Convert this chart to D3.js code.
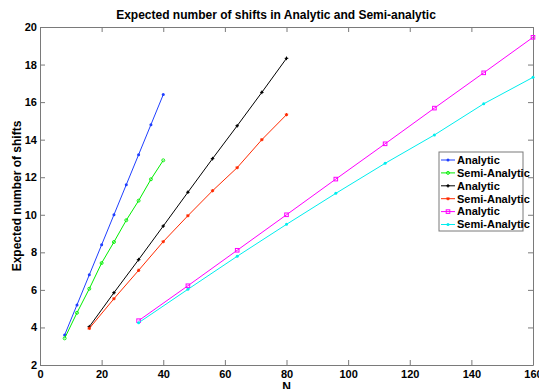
<!DOCTYPE html>
<html>
<head>
<meta charset="utf-8">
<script src="https://cdn.jsdelivr.net/npm/d3@7"></script>
<style>
  html, body { margin: 0; padding: 0; background: #fff; }
  svg { display: block; font-family: "Liberation Sans", Arial, Helvetica, sans-serif; }
</style>
</head>
<body>
<svg id="chart" width="539" height="389"></svg>
<script>
// Problem sizes N for each of the three experiments
const nSmall = [8, 12, 16, 20, 24, 28, 32, 36, 40];
const nMedium = [16, 24, 32, 40, 48, 56, 64, 72, 80];
const nLarge = [32, 48, 64, 80, 96, 112, 128, 144, 160];

// Expected number of shifts
const analyticSmall = [3.6, 5.2, 6.8, 8.4, 10.0, 11.6, 13.2, 14.8, 16.4];
const semiSmall = [3.42, 4.78, 6.06, 7.43, 8.55, 9.71, 10.75, 11.89, 12.9];
const analyticMedium = [4.04, 5.85, 7.61, 9.4, 11.2, 12.99, 14.74, 16.52, 18.33];
const semiMedium = [3.95, 5.53, 7.04, 8.57, 9.95, 11.28, 12.51, 14.0, 15.33];
const analyticLarge = [4.36, 6.22, 8.11, 10.0, 11.9, 13.78, 15.68, 17.56, 19.45];
const semiLarge = [4.25, 6.03, 7.79, 9.49, 11.14, 12.74, 14.25, 15.91, 17.32];

const xTicks = [0, 20, 40, 60, 80, 100, 120, 140, 160];
const yTicks = [2, 4, 6, 8, 10, 12, 14, 16, 18, 20];

const seriesNames = ["Analytic", "Semi-Analytic", "Analytic", "Semi-Analytic", "Analytic", "Semi-Analytic"];
const seriesColors = ["#1f3fff", "#00ee00", "#000000", "#ff2a00", "#ff00ff", "#00eeee"];
const seriesMarkers = ["dot", "circle", "plus", "star", "square", "dot"];

const series = [
  { x: nSmall, y: analyticSmall },
  { x: nSmall, y: semiSmall },
  { x: nMedium, y: analyticMedium },
  { x: nMedium, y: semiMedium },
  { x: nLarge, y: analyticLarge },
  { x: nLarge, y: semiLarge }
].map((s, i) => ({
  name: seriesNames[i],
  color: seriesColors[i],
  marker: seriesMarkers[i],
  points: s.x.map((n, j) => ({ n, v: s.y[j] }))
}));

const margin = { left: 40, right: 6, top: 27, bottom: 24 };
const W = 539, H = 389;
const x = d3.scaleLinear().domain([0, 160]).range([margin.left, W - margin.right]);
const y = d3.scaleLinear().domain([2, 20]).range([H - margin.bottom, margin.top]);

const svg = d3.select("#chart");
const axisColor = "#7a7a7a";

// Plot frame and ticks on all four sides (ticks point inward)
const tickLen = 5;
const axes = [
  { g: d3.axisBottom(x).tickValues(xTicks).tickSize(-tickLen), t: `translate(0,${y(2)})` },
  { g: d3.axisTop(x).tickValues(xTicks).tickSize(-tickLen).tickFormat(""), t: `translate(0,${y(20)})` },
  { g: d3.axisLeft(y).tickValues(yTicks).tickSize(-tickLen), t: `translate(${x(0)},0)` },
  { g: d3.axisRight(y).tickValues(yTicks).tickSize(-tickLen).tickFormat(""), t: `translate(${x(160)},0)` }
];
axes.forEach((a, i) => {
  const g = svg.append("g").attr("transform", a.t).call(a.g.tickSizeOuter(0));
  g.select(".domain").attr("stroke", axisColor).attr("stroke-width", 1);
  g.selectAll(".tick line").attr("stroke", axisColor);
  g.selectAll(".tick text")
    .attr("fill", "#000")
    .style("font-size", "11px")
    .style("font-weight", "bold")
    .style("font-family", "'Liberation Sans', Arial, sans-serif");
  if (i === 0) g.selectAll(".tick text").attr("y", 5).attr("dy", "0.71em");
  if (i === 2) g.selectAll(".tick text").attr("x", -3);
});

// Title and axis labels
svg.append("text")
  .attr("x", 276).attr("y", 19)
  .attr("text-anchor", "middle")
  .style("font-size", "12px").style("font-weight", "bold")
  .text("Expected number of shifts in Analytic and Semi-analytic");

svg.append("text")
  .attr("x", (x(0) + x(160)) / 2).attr("y", 391)
  .attr("text-anchor", "middle")
  .style("font-size", "12px").style("font-weight", "bold")
  .text("N");

svg.append("text")
  .attr("transform", `translate(21,${(y(2) + y(20)) / 2}) rotate(-90)`)
  .attr("text-anchor", "middle")
  .style("font-size", "12px").style("font-weight", "bold")
  .text("Expected number of shifts");

// Marker drawing
function drawMarker(g, type, color, cx, cy, s) {
  if (type === "dot") {
    g.append("circle").attr("cx", cx).attr("cy", cy).attr("r", s * 0.5).attr("fill", color);
  } else if (type === "circle") {
    g.append("circle").attr("cx", cx).attr("cy", cy).attr("r", s * 0.5)
      .attr("fill", "none").attr("stroke", color).attr("stroke-width", 0.9);
  } else if (type === "plus") {
    g.append("path").attr("d", `M${cx - s * 0.6},${cy}H${cx + s * 0.6}M${cx},${cy - s * 0.6}V${cy + s * 0.6}`)
      .attr("stroke", color).attr("stroke-width", 1);
    g.append("circle").attr("cx", cx).attr("cy", cy).attr("r", s * 0.35).attr("fill", color);
  } else if (type === "star") {
    const r = s * 0.55;
    g.append("path")
      .attr("d", `M${cx - r},${cy}H${cx + r}M${cx},${cy - r}V${cy + r}M${cx - r * 0.7},${cy - r * 0.7}L${cx + r * 0.7},${cy + r * 0.7}M${cx - r * 0.7},${cy + r * 0.7}L${cx + r * 0.7},${cy - r * 0.7}`)
      .attr("stroke", color).attr("stroke-width", 1);
    g.append("circle").attr("cx", cx).attr("cy", cy).attr("r", s * 0.3).attr("fill", color);
  } else if (type === "square") {
    g.append("rect").attr("x", cx - s * 0.5).attr("y", cy - s * 0.5)
      .attr("width", s).attr("height", s)
      .attr("fill", "none").attr("stroke", color).attr("stroke-width", 1);
  }
}

// Series lines and markers
const line = d3.line().x(d => x(d.n)).y(d => y(d.v));
const plot = svg.append("g");
series.forEach(s => {
  const g = plot.append("g");
  g.append("path").datum(s.points)
    .attr("d", line).attr("fill", "none")
    .attr("stroke", s.color).attr("stroke-width", 1);
  const size = s.marker === "square" ? 3.6 : 3;
  s.points.forEach(p => drawMarker(g, s.marker, s.color, x(p.n), y(p.v), size));
});

// Legend
const lg = svg.append("g").attr("transform", "translate(439,152)");
const rowH = 12.9;
lg.append("rect").attr("x", 0).attr("y", 0).attr("width", 84).attr("height", 79)
  .attr("fill", "#fff").attr("stroke", axisColor).attr("stroke-width", 1);
series.forEach((s, i) => {
  const cy = 8 + i * rowH;
  lg.append("line").attr("x1", 2).attr("x2", 16).attr("y1", cy).attr("y2", cy)
    .attr("stroke", s.color).attr("stroke-width", 1);
  drawMarker(lg, s.marker, s.color, 9, cy, s.marker === "square" ? 3.6 : 3);
  lg.append("text").attr("x", 18).attr("y", cy).attr("dy", "0.35em")
    .style("font-size", "11px").style("font-weight", "bold")
    .text(s.name);
});
</script>
</body>
</html>
